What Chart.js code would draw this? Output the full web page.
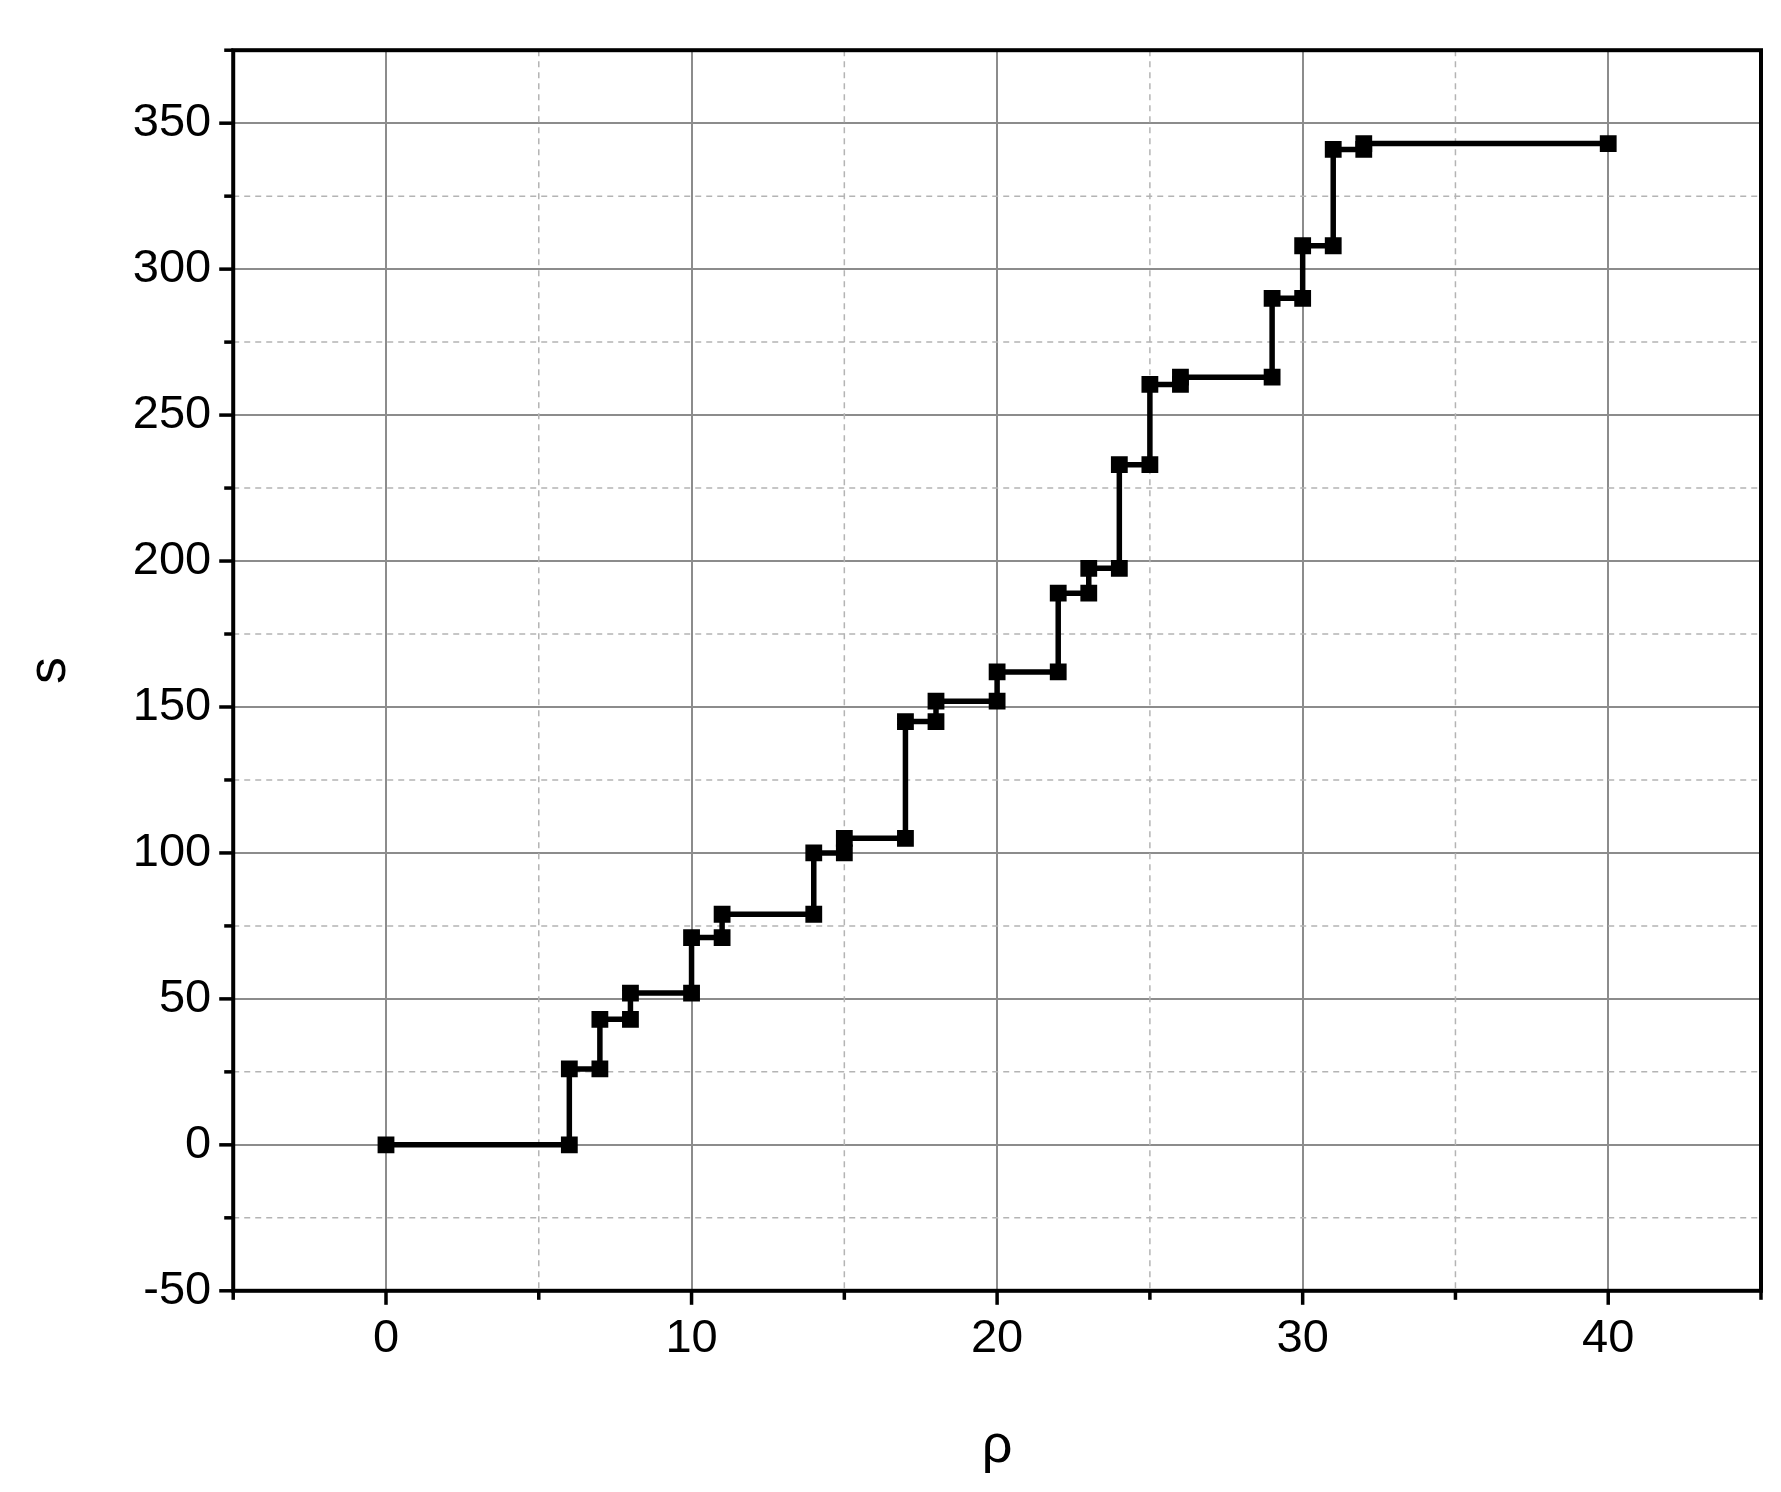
<!DOCTYPE html>
<html><head><meta charset="utf-8">
<script src="https://cdn.jsdelivr.net/npm/chart.js@4"></script>
<style>html,body{margin:0;padding:0;background:#fff}#w{width:1781px;height:1492px}</style>
</head><body><div id="w"><canvas id="c"></canvas></div>
<script>
const rhoValues = [0,6,6,7,7,8,8,10,10,11,11,14,14,15,15,17,17,18,18,20,20,22,22,23,23,24,24,25,25,26,26,29,29,30,30,31,31,32,32,40];
const sValues = [0,0,26,26,43,43,52,52,71,71,79,79,100,100,105,105,145,145,152,152,162,162,189,189,197.5,197.5,233,233,260.5,260.5,263,263,290,290,308,308,341,341,343,343];
const xMajorTicks = [0,10,20,30,40];
const yMajorTicks = [-50,0,50,100,150,200,250,300,350];

const pts = rhoValues.map((x,i)=>({x, y:sValues[i]}));
const font = "'Liberation Sans', Arial, sans-serif";

const deco = {
  id:'deco',
  beforeDatasetsDraw(ch){
    const {ctx, chartArea:a, scales:{x,y}} = ch;
    ctx.save();
    ctx.strokeStyle='#b4b4b4'; ctx.lineWidth=1.5; ctx.setLineDash([6,5]);
    for(let v=-5; v<=45; v+=5){ if(v%10===0) continue; const px=x.getPixelForValue(v);
      ctx.beginPath(); ctx.moveTo(px,a.top); ctx.lineTo(px,a.bottom); ctx.stroke(); }
    for(let v=-25; v<=375; v+=50){ const py=y.getPixelForValue(v);
      ctx.beginPath(); ctx.moveTo(a.left,py); ctx.lineTo(a.right,py); ctx.stroke(); }
    ctx.restore();
  },
  afterDraw(ch){
    const {ctx, chartArea:a, scales:{x,y}} = ch;
    ctx.save();
    ctx.strokeStyle='#000'; ctx.lineWidth=4; ctx.setLineDash([]);
    ctx.strokeRect(a.left,a.top,a.right-a.left,a.bottom-a.top);
    ctx.lineWidth=3.5;
    for(let v=-5; v<=45; v+=5){ const px=x.getPixelForValue(v); const L = v%10===0?14:9;
      ctx.beginPath(); ctx.moveTo(px,a.bottom); ctx.lineTo(px,a.bottom+L); ctx.stroke(); }
    for(let v=-50; v<=375; v+=25){ const py=y.getPixelForValue(v); const L = v%50===0?14:9;
      ctx.beginPath(); ctx.moveTo(a.left,py); ctx.lineTo(a.left-L,py); ctx.stroke(); }
    ctx.restore();
  }
};

new Chart(document.getElementById('c'), {
  type:'scatter',
  data:{datasets:[{data:pts, showLine:true, borderColor:'#000', backgroundColor:'#000',
    borderWidth:5.5, pointStyle:'rect', pointRadius:8, pointHoverRadius:8}]},
  options:{
    responsive:true, maintainAspectRatio:false, animation:false,
    layout:{padding:{top:0,right:20,left:14,bottom:8}},
    plugins:{legend:{display:false}, tooltip:{enabled:false}},
    scales:{
      x:{type:'linear', min:-5, max:45,
        afterBuildTicks:s=>{s.ticks=xMajorTicks.map(v=>({value:v}));},
        ticks:{color:'#000', font:{family:font,size:47}, padding:20},
        grid:{color:'#8c8c8c', lineWidth:2, drawTicks:false},
        border:{display:false},
        title:{display:true, text:'ρ', color:'#000', font:{family:font,size:54}, padding:{top:28}}},
      y:{type:'linear', min:-50, max:375,
        afterBuildTicks:s=>{s.ticks=yMajorTicks.map(v=>({value:v}));},
        ticks:{color:'#000', font:{family:font,size:47}, padding:22},
        grid:{color:'#8c8c8c', lineWidth:2, drawTicks:false},
        border:{display:false},
        title:{display:true, text:'s', color:'#000', font:{family:font,size:54}, padding:{bottom:28}}}
    }
  },
  plugins:[deco]
});
</script></body></html>
